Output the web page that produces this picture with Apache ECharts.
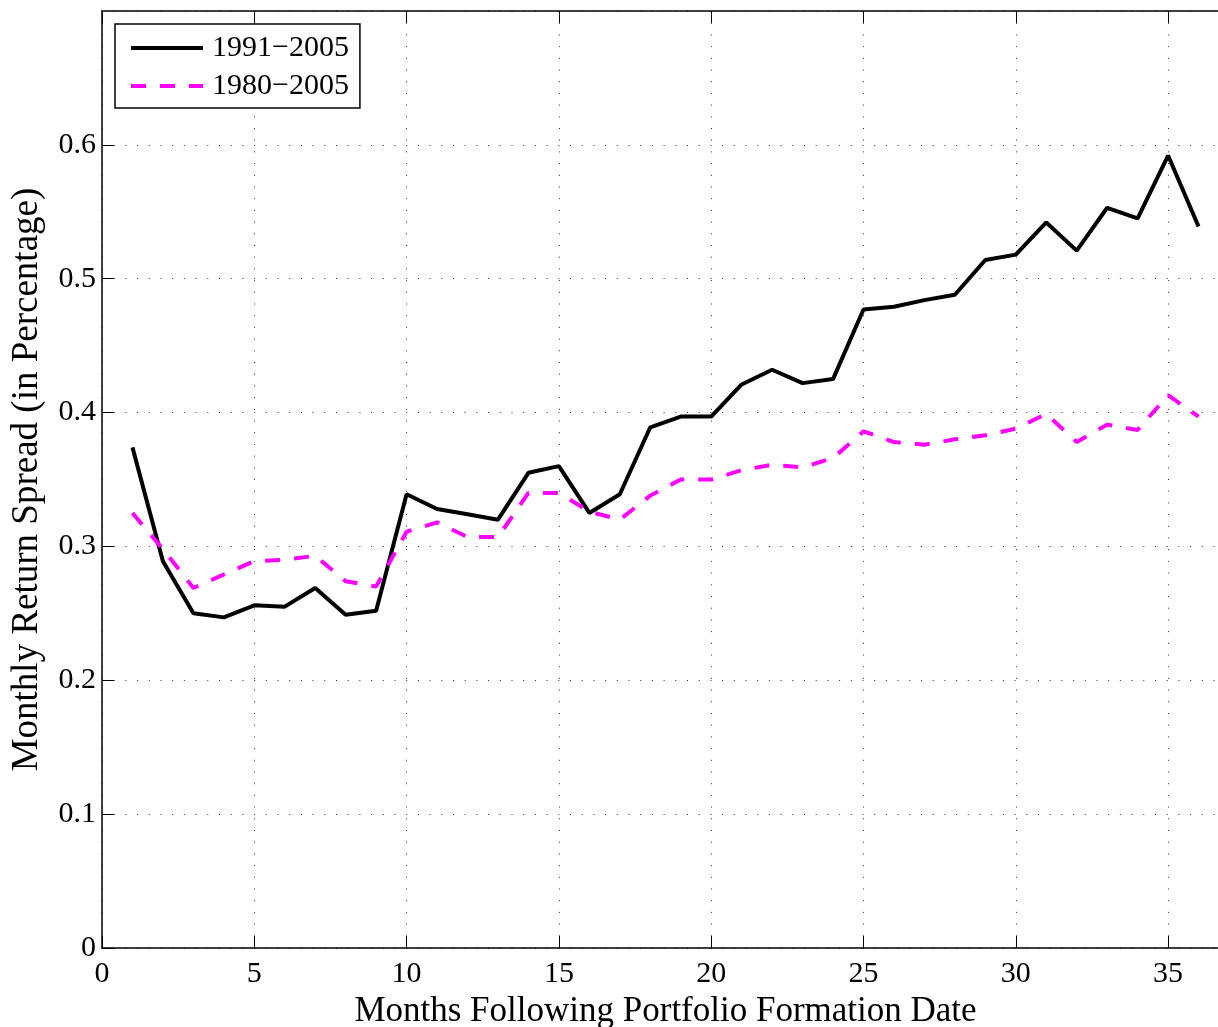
<!DOCTYPE html>
<html>
<head>
<meta charset="utf-8">
<script src="https://cdn.jsdelivr.net/npm/echarts@6/dist/echarts.min.js"></script>
<style>
html,body{margin:0;padding:0;background:#fff;}
#chart{width:1218px;height:1027px;}
</style>
</head>
<body>
<div id="chart"></div>
<script>
const months = [1,2,3,4,5,6,7,8,9,10,11,12,13,14,15,16,17,18,19,20,21,22,23,24,25,26,27,28,29,30,31,32,33,34,35,36];
const spread1991 = [0.374,0.289,0.250,0.247,0.256,0.255,0.269,0.249,0.252,0.339,0.328,0.324,0.320,0.355,0.360,0.325,0.339,0.389,0.397,0.397,0.421,0.432,0.422,0.425,0.477,0.479,0.484,0.488,0.514,0.518,0.542,0.521,0.553,0.545,0.592,0.539];
const spread1980 = [0.325,0.298,0.269,0.279,0.289,0.290,0.293,0.274,0.270,0.311,0.318,0.307,0.307,0.340,0.340,0.326,0.320,0.338,0.350,0.350,0.357,0.361,0.359,0.366,0.386,0.378,0.376,0.380,0.383,0.388,0.399,0.378,0.391,0.387,0.413,0.397];
const seriesNames = ['1991\u22122005','1980\u22122005'];
const xTitle = 'Months Following Portfolio Formation Date';
const yTitle = 'Monthly Return Spread (in Percentage)';

const FONT = 'Liberation Serif';
const chart = echarts.init(document.getElementById('chart'), null, {renderer:'canvas'});
const gridDots = {show:true, lineStyle:{color:'#333', width:1, type:[1,10.7]}};
chart.setOption({
  animation:false,
  backgroundColor:'#fff',
  grid:{left:102, top:11, bottom:79, right:-11, containLabel:false, outerBoundsMode:'none'},
  legend:{
    left:115, top:24, orient:'vertical',
    backgroundColor:'#fff', borderColor:'#000', borderWidth:1.5,
    padding:[9,11,7,14], itemGap:8, itemWidth:72, itemHeight:14,
    itemStyle:{opacity:0, borderWidth:0},
    lineStyle:{width:4},
    textStyle:{fontFamily:FONT, fontSize:30, color:'#000', lineHeight:30, padding:[0,0,0,4]},
    data:seriesNames
  },
  xAxis:[{
    type:'value', min:0, max:37, interval:5, position:'bottom',
    name:xTitle, nameLocation:'middle', nameGap:42,
    nameTextStyle:{fontFamily:FONT, fontSize:35, color:'#000'},
    axisLine:{show:true, lineStyle:{color:'#000', width:1.5}},
    axisTick:{show:true, inside:true, length:12, lineStyle:{color:'#000', width:1}},
    axisLabel:{fontFamily:FONT, fontSize:30, color:'#000', margin:11, showMaxLabel:false,
      formatter:v => (v % 5 === 0 ? String(v) : '')},
    splitLine:gridDots
  },{
    type:'value', min:0, max:37, interval:5, position:'top',
    axisLine:{show:true, lineStyle:{color:'#000', width:1.5}},
    axisTick:{show:true, inside:true, length:12, lineStyle:{color:'#000', width:1}},
    axisLabel:{show:false}, splitLine:{show:false}
  }],
  yAxis:{
    type:'value', min:0, max:0.7, interval:0.1,
    name:yTitle, nameLocation:'middle', nameGap:56, nameRotate:90,
    nameTextStyle:{fontFamily:FONT, fontSize:37, color:'#000'},
    axisLine:{show:true, lineStyle:{color:'#000', width:1.5}},
    axisTick:{show:true, inside:true, length:12, lineStyle:{color:'#000', width:1}},
    axisLabel:{fontFamily:FONT, fontSize:30, color:'#000', margin:6, showMaxLabel:false,
      formatter:v => (v === 0 ? '0' : v.toFixed(1))},
    splitLine:gridDots
  },
  series:[{
    name:seriesNames[0], type:'line', xAxisIndex:0, symbol:'none',
    data:months.map((m,i)=>[m, spread1991[i]]),
    lineStyle:{color:'#000', width:4}, itemStyle:{color:'#000'}
  },{
    name:seriesNames[1], type:'line', xAxisIndex:0, symbol:'none',
    data:months.map((m,i)=>[m, spread1980[i]]),
    lineStyle:{color:'#ff00ff', width:4, type:[15,14]}, itemStyle:{color:'#ff00ff'}
  }]
});
</script>
</body>
</html>
